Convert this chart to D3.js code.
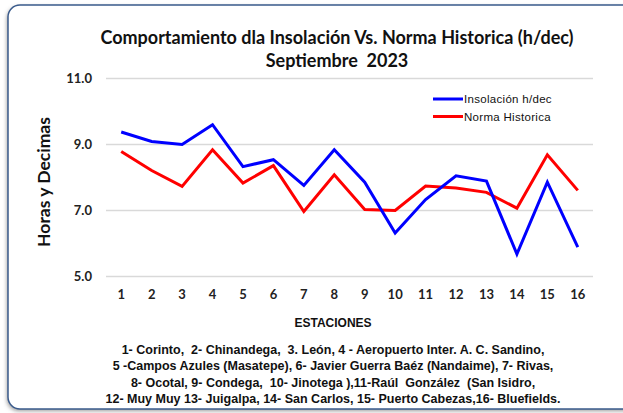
<!DOCTYPE html>
<html>
<head>
<meta charset="utf-8">
<script src="https://cdn.jsdelivr.net/npm/d3@7"></script>
<style>
  body { margin: 0; background: #fff; }
</style>
</head>
<body>
<div id="chart"></div>
<script>
// stations 1..16
var estaciones = ["1","2","3","4","5","6","7","8","9","10","11","12","13","14","15","16"];
var insolacion = [9.38, 9.09, 9.00, 9.60, 8.33, 8.54, 7.76, 8.84, 7.86, 6.32, 7.33, 8.05, 7.89, 5.68, 7.86, 5.89];
var norma = [8.79, 8.21, 7.73, 8.84, 7.83, 8.36, 6.97, 8.08, 7.03, 7.00, 7.74, 7.68, 7.55, 7.07, 8.69, 7.61];
var yTicks = [5, 7, 9, 11];
var seriesNames = ["Insolación h/dec", "Norma Historica"];
var footLines = [
    "1- Corinto,  2- Chinandega,  3. León, 4 - Aeropuerto Inter. A. C. Sandino,",
    "5 -Campos Azules (Masatepe), 6- Javier Guerra Baéz (Nandaime), 7- Rivas,",
    "8- Ocotal, 9- Condega,  10- Jinotega ),11-Raúl  González  (San Isidro,",
    "12- Muy Muy 13- Juigalpa, 14- San Carlos, 15- Puerto Cabezas,16- Bluefields."
];

var W = 623, H = 413;
var svg = d3.select("#chart").append("svg").attr("width", W).attr("height", H);

// frame with soft shadow
var defs = svg.append("defs");
var f = defs.append("filter").attr("id", "sh").attr("x", "-5%").attr("y", "-5%").attr("width", "110%").attr("height", "110%");
f.append("feGaussianBlur").attr("stdDeviation", 2);
svg.append("rect").attr("x", 7).attr("y", 7).attr("width", 640).attr("height", 404).attr("rx", 12)
    .style("fill", "#999").attr("filter", "url(#sh)");
svg.append("rect").attr("x", 8).attr("y", 5).attr("width", 640).attr("height", 404).attr("rx", 12)
    .style("fill", "#fff").style("stroke", "#3a5b8c").style("stroke-width", 1.5);

// scales
var plotL = 106, plotR = 593, plotT = 78.5, plotB = 276.5;
var x = d3.scaleBand().domain(estaciones).range([plotL, plotR]);
var y = d3.scaleLinear().domain([5, 11]).range([plotB, plotT]);

// gridlines
svg.append("g").selectAll("line").data(yTicks).enter().append("line")
    .attr("x1", plotL).attr("x2", plotR)
    .attr("y1", function (d) { return y(d); }).attr("y2", function (d) { return y(d); })
    .style("stroke", "#d9d9d9").style("stroke-width", 1.5);

// y axis
var yAxis = d3.axisLeft(y).tickValues(yTicks).tickFormat(d3.format(".1f")).tickSize(0).tickPadding(14);
var gy = svg.append("g").attr("transform", "translate(" + plotL + ",0)").call(yAxis);
gy.select(".domain").remove();
gy.selectAll("text").style("font-family", "Lato, sans-serif").style("font-weight", "bold")
    .style("font-size", "13px").style("fill", "#222");

// x axis
var xAxis = d3.axisBottom(x).tickSize(0).tickPadding(13);
var gx = svg.append("g").attr("transform", "translate(0," + plotB + ")").call(xAxis);
gx.select(".domain").remove();
gx.selectAll("text").style("font-family", "Lato, sans-serif").style("font-weight", "bold")
    .style("font-size", "13px").style("fill", "#222");

// lines
var line = d3.line()
    .x(function (d, i) { return x(estaciones[i]) + x.bandwidth() / 2; })
    .y(function (d) { return y(d); });
svg.append("path").datum(norma).attr("d", line)
    .style("fill", "none").style("stroke", "#ff0000").style("stroke-width", 3);
svg.append("path").datum(insolacion).attr("d", line)
    .style("fill", "none").style("stroke", "#0000ff").style("stroke-width", 3);

// legend
var colors = ["#0000ff", "#ff0000"];
var lg = svg.append("g").selectAll("g").data(seriesNames).enter().append("g")
    .attr("transform", function (d, i) { return "translate(433," + (99 + i * 17.5) + ")"; });
lg.append("line").attr("x1", 0).attr("x2", 30).style("stroke", function (d, i) { return colors[i]; }).style("stroke-width", 3);
lg.append("text").attr("x", 31).attr("y", 4).text(function (d) { return d; })
    .style("font-family", "'Liberation Sans Narrow', 'Arial Narrow', sans-serif")
    .style("font-size", "11.5px").style("letter-spacing", "0.3px").style("fill", "#111");

// titles
svg.append("text").attr("x", 337).attr("y", 44).attr("text-anchor", "middle")
    .text("Comportamiento dla Insolación Vs. Norma Historica (h/dec)")
    .style("font-family", "Lato, sans-serif").style("font-weight", "bold").style("font-size", "18px").style("fill", "#111");
svg.append("text").attr("x", 337).attr("y", 67).attr("text-anchor", "middle").attr("xml:space", "preserve")
    .text("Septiembre  2023")
    .style("font-family", "Lato, sans-serif").style("font-weight", "bold").style("font-size", "18px").style("fill", "#111");

svg.append("text").attr("transform", "translate(50,182)rotate(-90)").attr("text-anchor", "middle")
    .text("Horas y Decimas")
    .style("font-family", "Lato, sans-serif").style("font-weight", "bold").style("font-size", "17.5px").style("fill", "#111");

svg.append("text").attr("x", 333).attr("y", 327).attr("text-anchor", "middle")
    .text("ESTACIONES")
    .style("font-family", "'Liberation Sans Narrow', 'Arial Narrow', sans-serif").style("font-weight", "bold")
    .style("font-size", "12px").style("fill", "#111");

svg.append("g").selectAll("text").data(footLines).enter().append("text")
    .attr("x", 333).attr("y", function (d, i) { return 354 + i * 16.3; })
    .attr("text-anchor", "middle").attr("xml:space", "preserve")
    .text(function (d) { return d; })
    .style("font-family", "'Liberation Sans Narrow', 'Arial Narrow', sans-serif").style("font-weight", "bold")
    .style("font-size", "12.5px").style("fill", "#111");
</script>
</body>
</html>
